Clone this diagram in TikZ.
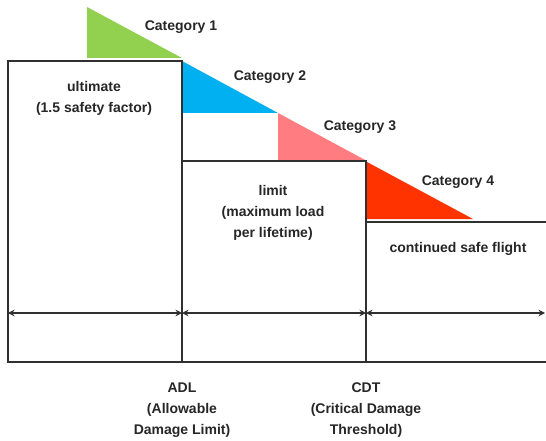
\documentclass[tikz,border=0pt]{standalone}
\usepackage{fontspec}
\setmainfont{Liberation Sans}
\usetikzlibrary{arrows.meta}
\definecolor{cgreen}{HTML}{92D050}
\definecolor{cblue}{HTML}{00B0F0}
\definecolor{cpink}{HTML}{FF7C80}
\definecolor{cred}{HTML}{FF3300}
\definecolor{lineclr}{HTML}{303030}
\begin{document}
\begin{tikzpicture}[x=1pt,y=-1pt,
  lbl/.style={font=\fontsize{14}{21}\selectfont\bfseries, align=center, text=black!85, inner sep=0pt},
  box/.style={draw=lineclr, line width=1.3pt},
  dim/.style={draw=lineclr, line width=1.2pt, {Stealth[length=6.5pt,width=6.5pt]}-{Stealth[length=6.5pt,width=6.5pt]}}]
\useasboundingbox (0,0) rectangle (546,441);
% category triangles
\fill[cgreen] (87,7) -- (87,58) -- (182,58) -- cycle;
\fill[cblue] (182,61) -- (182,113) -- (278,113) -- cycle;
\fill[cpink] (278,113) -- (278,161) -- (367,161) -- cycle;
\fill[cred] (367,162) -- (367,219) -- (473,219) -- cycle;
% boxes
\draw[box] (8,61) rectangle (182,362);
\draw[box] (182,161) rectangle (366,362);
\draw[box] (546,222) -- (366,222) -- (366,362) -- (546,362);
% dimension arrows
\coordinate (a0) at (8,313);
\coordinate (a1) at (182,313);
\coordinate (a2) at (366,313);
\coordinate (a3) at (545,313);
\draw[dim] (a0) -- (a1);
\draw[dim] (a1) -- (a2);
\draw[dim] (a2) -- (a3);
% labels
\node[lbl] (c1) at (181,27.5) {Category 1};
\node[lbl] (c2) at (270,77.5) {Category 2};
\node[lbl] (c3) at (360,127.5) {Category 3};
\node[lbl] (c4) at (458,182.5) {Category 4};
\node[lbl] (ult) at (94,98) {ultimate\\(1.5 safety factor)};
\node[lbl] (lim) at (273,213) {limit\\(maximum load\\per lifetime)};
\node[lbl] (csf) at (458,248.5) {continued safe flight};
\node[lbl] (adl) at (182,410.5) {ADL\\(Allowable\\Damage Limit)};
\node[lbl] (cdt) at (366,410.5) {CDT\\(Critical Damage\\Threshold)};
\end{tikzpicture}
\end{document}
